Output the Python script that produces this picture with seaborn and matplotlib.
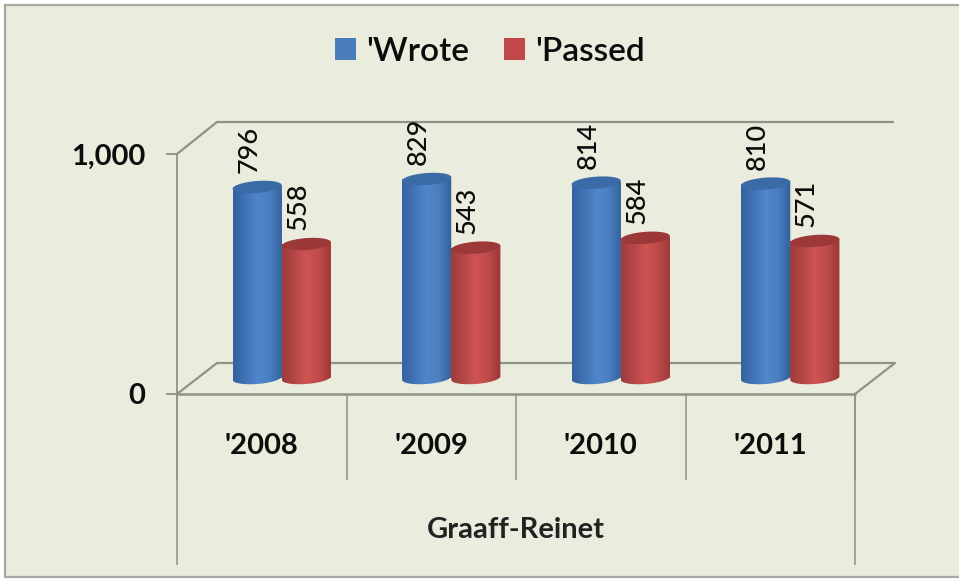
import numpy as np
import pandas as pd
import seaborn as sns
import matplotlib
matplotlib.use('Agg')
import matplotlib.pyplot as plt
from matplotlib.colors import LinearSegmentedColormap
from matplotlib.patches import Polygon, Rectangle

years = ["'2008", "'2009", "'2010", "'2011"]
wrote = [796, 829, 814, 810]
passed = [558, 543, 584, 571]
series_names = ["'Wrote", "'Passed"]
group_label = "Graaff-Reinet"

W, H = 959, 579
LINE = '#8f9387'
BG = '#eaeddd'
INK = '#0c0c0c'

sns.set_theme(style='white')
plt.rcParams['font.family'] = ['Lato', 'DejaVu Sans']

df = pd.DataFrame({
    'year': years * 2,
    'value': wrote + passed,
    'series': [series_names[0]] * 4 + [series_names[1]] * 4,
})


def px_axes(fig, left, top, right, bottom):
    return fig.add_axes([left / W, 1 - bottom / H, (right - left) / W, (bottom - top) / H])


fig = plt.figure(figsize=(W / 100, H / 100), dpi=100, facecolor='white')

# panel + fake 3d walls, in pixels
bg = fig.add_axes([0, 0, 1, 1])
bg.set_xlim(0, W)
bg.set_ylim(H, 0)
bg.set_axis_off()
bg.add_patch(Rectangle((5, 5), W + 20, H - 7, fc=BG, ec='#a9a9a4', lw=1.6))
bg.plot([177, 217, 893], [154, 122, 122], color=LINE, lw=1.6)
bg.plot([177, 217, 895, 855], [394, 363, 363, 394], color=LINE, lw=1.6)

# front plane: ticks and the two level category axis
front = px_axes(fig, 177, 154, 855, 394)
front.patch.set_alpha(0)
front.set_xlim(-0.5, 3.5)
front.set_ylim(0, 1000)
sns.despine(ax=front, top=True, right=True)
for s in ['left', 'bottom']:
    front.spines[s].set_color(LINE)
front.spines['left'].set_linewidth(1.3)
front.spines['bottom'].set_linewidth(1.8)
front.set_yticks([0, 1000], ['0', '1,000'], fontsize=21, fontweight='bold', color=INK)
front.set_xticks(range(4), years, fontsize=21, fontweight='bold', color=INK)
front.tick_params(axis='y', length=8, width=1.3, color=LINE, left=True, pad=15)
front.tick_params(axis='x', length=0, pad=28)
xtrans = front.get_xaxis_transform()
front.vlines(np.arange(5) - 0.5, -86 / 240, 0, transform=xtrans, color=LINE, lw=1.1, clip_on=False)
front.vlines([-0.5, 3.5], -171 / 240, 0, transform=xtrans, color=LINE, lw=1.1, clip_on=False)
front.text(1.5, -136 / 240, group_label, transform=xtrans, ha='center', va='center',
           fontsize=21, fontweight='bold', color='#222222')

# bars sit on the floor, a bit behind the front plane
ax = px_axes(fig, 197, 138, 875, 378)
ax.patch.set_alpha(0)
sns.barplot(data=df, x='year', y='value', hue='series', hue_order=series_names,
            palette=['#4a7ebb', '#c0474a'], width=0.58, gap=0, saturation=1, linewidth=0, ax=ax)
ax.set_xlim(-0.5, 3.5)
ax.set_ylim(0, 1000)
ax.set_axis_off()

sns.move_legend(ax, 'center', bbox_to_anchor=(490 / W, 1 - 52 / H), bbox_transform=fig.transFigure,
                ncol=2, title=None, frameon=False, fontsize=24, handlelength=0.62, handleheight=0.62,
                handletextpad=0.3, columnspacing=1.05)
for t in ax.get_legend().get_texts():
    t.set_color(INK)
    t.set_fontweight('semibold')

blue_map = LinearSegmentedColormap.from_list('b', ['#34629f', '#4174b6', '#5087cc', '#4a7ebf', '#33609a'])
red_map = LinearSegmentedColormap.from_list('r', ['#9d3c3c', '#b44746', '#cf5453', '#bd4a49', '#9a3937'])
ry = 6 / 0.24  # ellipse half height, data units
tilt = 1.8 / 0.24 / 0.145  # rise to the right, data units per x unit

n = len(years)
values = wrote + passed
for i, (bar, val) in enumerate(zip(ax.patches[:2 * n], values)):
    x0, w = bar.get_x(), bar.get_width()
    xc = x0 + w / 2
    cmap, top_col = (blue_map, '#3a6ba6') if i < n else (red_map, '#9c3837')
    t = np.linspace(0, np.pi, 40)
    ex = xc + w / 2 * np.cos(t)
    lean = (ex - xc) * tilt
    # body: top edge, then round along the bottom
    body = np.column_stack([np.r_[ex[::-1], ex], np.r_[val + lean[::-1], lean - ry * np.sin(t)]])
    shape = Polygon(body, closed=True, fc='none', ec='none')
    ax.add_patch(shape)
    im = ax.imshow(np.linspace(0, 1, 64)[None, :], cmap=cmap, aspect='auto', zorder=3 + (i >= n),
                   extent=(x0, x0 + w, -3 * ry, val + 2 * ry))
    im.set_clip_box(fig.bbox)
    im.set_clip_path(shape)
    cap = np.column_stack([
        np.r_[ex, xc - w / 2 * np.cos(t)],
        np.r_[val + lean + ry * np.sin(t), val - lean - ry * np.sin(t)],
    ])
    ax.add_patch(Polygon(cap, closed=True, fc=top_col, ec='none', zorder=3.5 + (i >= n)))
    ax.annotate(str(val), (xc, val), xytext=(-6, 10), textcoords='offset points', rotation=90,
                ha='center', va='bottom', fontsize=19.5, fontweight='medium', color=INK, zorder=6)
ax.set_xlim(-0.5, 3.5)
ax.set_ylim(0, 1000)

fig.savefig('out.png', dpi=100, facecolor=fig.get_facecolor())
